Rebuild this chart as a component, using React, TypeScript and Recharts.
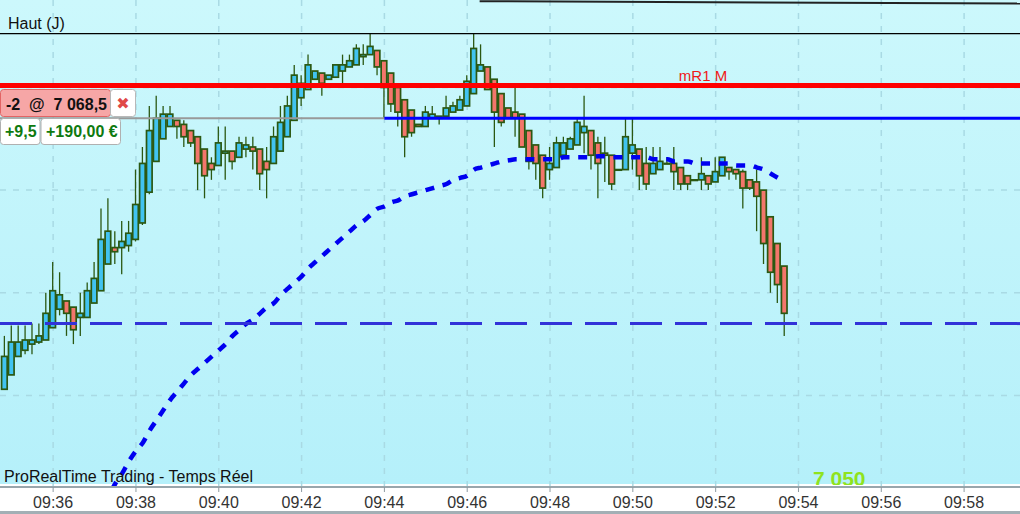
import React from 'react';
import { ComposedChart, Bar, Line, XAxis, YAxis, CartesianGrid, ReferenceLine } from 'recharts';

// 10-second candles, first one at 09:34:50
const startTime = '09:34:50';
const stepSeconds = 10;
const axisOrigin = '09:36:00';
const viewStart = '09:34:43';
const viewEnd = '09:59:21';
const tickLabels = ['09:36', '09:38', '09:40', '09:42', '09:44', '09:46', '09:48', '09:50', '09:52', '09:54', '09:56', '09:58'];

const opens = [
  7055.3, 7056.0, 7056.9, 7057.2, 7057.5, 7057.6, 7057.7, 7058.3, 7059.2, 7059.6,
  7059.3, 7058.8, 7058.8, 7059.5, 7060.1, 7061.4, 7062.2, 7062.2, 7062.3, 7062.6,
  7063.4, 7064.9, 7066.4, 7067.5, 7068.1, 7068.4, 7068.2, 7067.9, 7067.6, 7067.0,
  7066.3, 7066.2, 7066.8, 7066.9, 7066.6, 7067.0, 7067.1, 7067.0, 7066.4, 7066.3,
  7066.9, 7067.6, 7068.4, 7069.5, 7069.9, 7070.4, 7070.7, 7070.4, 7070.5, 7070.8,
  7071.0, 7071.1, 7071.5, 7071.6, 7071.8, 7071.3, 7070.7, 7070.0, 7069.4, 7068.9,
  7068.2, 7068.1, 7068.5, 7068.5, 7068.6, 7068.8, 7068.9, 7069.1, 7069.7, 7070.8,
  7071.0, 7070.4, 7069.7, 7069.0, 7068.8, 7068.7, 7067.9, 7067.2, 7066.7, 7066.0,
  7066.1, 7066.7, 7067.0, 7067.2, 7067.8, 7067.9, 7067.3, 7066.8, 7066.7, 7066.0,
  7066.0, 7066.8, 7067.0, 7066.3, 7065.8, 7066.0, 7066.3, 7066.3, 7066.1, 7065.7,
  7065.5, 7065.5, 7065.7, 7065.4, 7065.7, 7066.1, 7066.0, 7065.9, 7065.5, 7065.4,
  7065.0, 7063.7, 7062.4, 7061.3,
];
const highs = [
  7057.9, 7058.4, 7058.4, 7058.4, 7058.5, 7058.5, 7060.0, 7061.5, 7061.0, 7059.6,
  7059.3, 7060.0, 7060.5, 7061.5, 7064.1, 7064.6, 7063.0, 7063.5, 7063.5, 7066.0,
  7067.1, 7069.1, 7069.6, 7069.1, 7069.1, 7068.4, 7068.4, 7067.9, 7067.6, 7067.0,
  7066.6, 7068.1, 7068.1, 7066.9, 7067.6, 7067.6, 7067.6, 7067.0, 7067.1, 7068.1,
  7069.1, 7069.6, 7071.1, 7070.6, 7071.6, 7070.8, 7070.7, 7070.6, 7071.1, 7071.6,
  7071.6, 7072.1, 7072.1, 7072.6, 7071.8, 7071.3, 7070.7, 7070.0, 7069.4, 7068.9,
  7068.2, 7069.1, 7069.1, 7068.6, 7069.6, 7069.3, 7069.6, 7070.6, 7072.6, 7072.1,
  7071.0, 7070.4, 7069.7, 7069.0, 7070.0, 7068.7, 7067.9, 7067.2, 7066.7, 7067.1,
  7067.6, 7067.6, 7067.6, 7068.5, 7069.6, 7067.9, 7067.6, 7067.6, 7066.7, 7066.0,
  7068.5, 7068.5, 7067.0, 7067.1, 7067.1, 7067.1, 7066.6, 7067.1, 7066.1, 7065.7,
  7065.5, 7066.6, 7065.7, 7066.6, 7066.6, 7066.1, 7066.0, 7066.0, 7065.5, 7066.0,
  7065.0, 7063.7, 7062.4, 7061.3,
];
const lows = [
  7055.3, 7056.0, 7056.9, 7057.0, 7057.0, 7057.5, 7057.7, 7058.3, 7058.9, 7057.9,
  7057.5, 7057.9, 7058.8, 7059.5, 7060.1, 7061.4, 7061.4, 7060.9, 7062.0, 7062.5,
  7063.3, 7064.8, 7066.4, 7067.5, 7068.1, 7067.5, 7067.1, 7067.1, 7065.0, 7064.6,
  7065.5, 7066.2, 7065.5, 7066.0, 7066.6, 7066.6, 7066.0, 7065.0, 7064.6, 7066.3,
  7066.9, 7067.6, 7068.4, 7069.1, 7069.9, 7070.4, 7069.6, 7070.4, 7070.5, 7070.2,
  7071.0, 7071.1, 7071.1, 7071.6, 7070.6, 7068.5, 7068.8, 7068.1, 7066.6, 7067.6,
  7068.1, 7068.1, 7068.5, 7068.2, 7068.6, 7068.8, 7068.9, 7069.1, 7069.7, 7070.8,
  7069.9, 7067.1, 7068.1, 7068.5, 7067.6, 7067.1, 7066.0, 7065.5, 7064.6, 7065.5,
  7066.1, 7066.7, 7067.0, 7067.2, 7066.8, 7066.0, 7064.6, 7065.4, 7065.0, 7066.0,
  7066.0, 7066.0, 7065.0, 7065.0, 7065.8, 7066.0, 7066.3, 7065.0, 7065.0, 7065.0,
  7065.5, 7065.0, 7065.0, 7065.4, 7065.7, 7065.5, 7065.5, 7064.1, 7065.0, 7063.0,
  7061.4, 7060.0, 7059.5, 7057.9,
];
const closes = [
  7056.9, 7057.6, 7057.6, 7057.7, 7057.7, 7057.9, 7059.0, 7060.1, 7059.9, 7059.0,
  7058.2, 7059.0, 7060.1, 7060.7, 7062.6, 7063.0, 7062.0, 7062.5, 7062.9, 7064.3,
  7066.3, 7067.9, 7068.5, 7068.7, 7068.7, 7068.1, 7067.6, 7067.3, 7066.3, 7065.7,
  7066.0, 7067.3, 7066.9, 7066.4, 7067.3, 7067.2, 7066.9, 7065.8, 7066.0, 7067.6,
  7068.3, 7069.1, 7070.6, 7070.2, 7071.1, 7070.8, 7070.2, 7070.6, 7071.1, 7071.1,
  7071.3, 7071.9, 7071.6, 7072.0, 7071.0, 7070.0, 7069.2, 7068.8, 7067.6, 7067.8,
  7068.1, 7068.8, 7068.7, 7068.6, 7069.0, 7069.1, 7069.4, 7070.3, 7071.9, 7071.1,
  7069.9, 7068.8, 7068.3, 7068.5, 7068.5, 7067.1, 7066.4, 7066.3, 7065.1, 7066.3,
  7067.3, 7067.3, 7067.5, 7068.3, 7068.1, 7066.7, 7066.3, 7066.7, 7065.3, 7066.0,
  7067.6, 7067.2, 7065.7, 7065.3, 7066.3, 7066.4, 7066.3, 7065.9, 7065.3, 7065.3,
  7065.5, 7065.8, 7065.3, 7065.9, 7066.6, 7065.9, 7065.8, 7065.1, 7065.1, 7064.7,
  7062.4, 7061.0, 7060.4, 7059.0,
];
// moving average (dotted blue), only drawn from the 15th candle on
const movingAvg = [
  null, null, null, null, null, null, null, null, null, null,
  null, null, null, null, 7049.7, 7050.1, 7050.7, 7051.2, 7051.8, 7052.3,
  7052.7, 7053.3, 7053.8, 7054.3, 7054.8, 7055.2, 7055.6, 7056.0, 7056.3, 7056.6,
  7056.9, 7057.2, 7057.5, 7057.9, 7058.2, 7058.5, 7058.7, 7059.0, 7059.3, 7059.5,
  7059.9, 7060.2, 7060.5, 7060.8, 7061.2, 7061.5, 7061.8, 7062.1, 7062.4, 7062.7,
  7063.0, 7063.3, 7063.5, 7063.8, 7064.1, 7064.2, 7064.4, 7064.5, 7064.7, 7064.8,
  7064.9, 7065.0, 7065.1, 7065.2, 7065.3, 7065.5, 7065.6, 7065.7, 7066.0, 7066.1,
  7066.2, 7066.3, 7066.4, 7066.45, 7066.5, 7066.5, 7066.5, 7066.5, 7066.5, 7066.5,
  7066.5, 7066.6, 7066.6, 7066.6, 7066.6, 7066.6, 7066.65, 7066.65, 7066.6, 7066.6,
  7066.6, 7066.6, 7066.6, 7066.6, 7066.5, 7066.5, 7066.5, 7066.4, 7066.4, 7066.4,
  7066.3, 7066.3, 7066.3, 7066.3, 7066.3, 7066.3, 7066.2, 7066.2, 7066.2, 7066.1,
  7066.0, 7065.8, 7065.6, 7065.4,
];

const dayHigh = 7072.62;
const monthR1 = 7070.1;
const entryPrice = 7068.5;
const entryTime = '09:44:00';
const supportLevel = 7058.5;
const trendFrom = { time: '09:46:18', price: 7074.2 };
const trendTo = { time: viewEnd, price: 7074.09 };
const gridPrices = [7055, 7060, 7065, 7070];
const priceDomain = [7050.54, 7074.26];

const UP = '#41c3f0';
const DOWN = '#f3766b';
const OUTLINE = '#2b5812';
const FONT = '"Liberation Sans", Arial, sans-serif';

const toSec = (s: string) => {
  const [h, m, sec] = s.split(':').map(Number);
  return h * 3600 + m * 60 + (sec || 0);
};
const rel = (s: string) => toSec(s) - toSec(axisOrigin);

const data = opens.map((open, i) => ({
  t: rel(startTime) + i * stepSeconds,
  open,
  high: highs[i],
  low: lows[i],
  close: closes[i],
  ma: movingAvg[i],
}));

const tickTimes = tickLabels.map((l) => rel(l + ':00'));
const fmtTick = (t: number) => tickLabels[tickTimes.indexOf(t)] ?? '';

const Candle = (props: any) => {
  const { x, y, width, height, payload } = props;
  const { open, close, high, low } = payload;
  const cx = x + width / 2;
  const span = high - low;
  const k = span === 0 ? 0 : height / span;
  const yOf = (v: number) => y + (high - v) * k;
  const top = yOf(Math.max(open, close));
  const bottom = yOf(Math.min(open, close));
  const bw = 5.6;
  return (
    <g>
      <line x1={cx} x2={cx} y1={y} y2={y + height} stroke={OUTLINE} strokeWidth={1.3} />
      <rect
        x={cx - bw / 2}
        y={top}
        width={bw}
        height={Math.max(bottom - top, 0.6)}
        fill={close >= open ? UP : DOWN}
        stroke={OUTLINE}
        strokeWidth={1.7}
      />
    </g>
  );
};

const HautLabel = (p: any) => (
  <text x={p.viewBox.x + 8} y={p.viewBox.y - 5} fontSize={16} fontFamily={FONT} fill="#111">
    Haut (J)
  </text>
);

const R1Label = (p: any) => (
  <text x={703} y={p.viewBox.y - 4} textAnchor="middle" fontSize={15} fontFamily={FONT} fill="#f01818">
    mR1 M
  </text>
);

export default function App() {
  return (
    <div
      style={{
        position: 'relative',
        width: 1020,
        height: 514,
        background: 'linear-gradient(#ccf8fc 0px, #b5f0fa 484px, #ffffff 484px, #ffffff 511px, #a3afb5 511px)',
        fontFamily: FONT,
      }}
    >
      <style>{'body{margin:0}'}</style>
      <ComposedChart width={1020} height={514} data={data} margin={{ top: 0, right: 0, bottom: 0, left: 0 }}>
        <CartesianGrid
          stroke="#a9dae4"
          strokeWidth={1.5}
          strokeDasharray="6 7"
          horizontalValues={gridPrices}
          verticalValues={tickTimes}
        />
        <XAxis
          dataKey="t"
          type="number"
          domain={[rel(viewStart), rel(viewEnd)]}
          allowDataOverflow
          ticks={tickTimes}
          tickFormatter={fmtTick}
          height={27}
          tickSize={5}
          tickMargin={5}
          axisLine={{ stroke: '#98a6ac', strokeWidth: 2 }}
          tickLine={{ stroke: '#8d9aa0' }}
          tick={{ fontSize: 16, fill: '#333', fontFamily: FONT }}
        />
        <YAxis hide type="number" domain={priceDomain} allowDataOverflow ticks={gridPrices} />
        <Bar dataKey={(d: any) => [d.low, d.high]} barSize={6} shape={Candle} isAnimationActive={false} />
        <Line
          dataKey="ma"
          type="monotone"
          stroke="#0000f0"
          strokeWidth={4.5}
          strokeDasharray="9 8.7"
          dot={false}
          activeDot={false}
          isAnimationActive={false}
        />
        <ReferenceLine
          segment={[
            { x: rel(trendFrom.time), y: trendFrom.price },
            { x: rel(trendTo.time), y: trendTo.price },
          ]}
          stroke="#222"
          strokeWidth={2}
        />
        <ReferenceLine y={dayHigh} stroke="#000" strokeWidth={1.3} label={HautLabel} />
        <ReferenceLine y={supportLevel} stroke="#3232d8" strokeWidth={3} strokeDasharray="32 13" />
        <ReferenceLine
          segment={[
            { x: rel(viewStart), y: entryPrice },
            { x: rel(entryTime), y: entryPrice },
          ]}
          stroke="#999"
          strokeWidth={2}
        />
        <ReferenceLine
          segment={[
            { x: rel(entryTime), y: entryPrice },
            { x: rel(viewEnd), y: entryPrice },
          ]}
          stroke="#0000ff"
          strokeWidth={3}
        />
        <ReferenceLine y={monthR1} stroke="#ff0000" strokeWidth={5} label={R1Label} />
      </ComposedChart>

      <svg width={1020} height={514} style={{ position: 'absolute', left: 0, top: 0, pointerEvents: 'none' }}>
        <defs>
          <clipPath id="plotClip">
            <rect x={0} y={0} width={1020} height={485} />
          </clipPath>
        </defs>
        <g fontFamily={FONT} fontWeight="bold" fontSize={16}>
          <rect x={0.5} y={89.5} width={110} height={27} rx={3} fill="#f6a6a6" stroke="#e26464" />
          <text x={6} y={110} fill="#111" xmlSpace="preserve" style={{ whiteSpace: 'pre' }}>
            {'-2  @  7 068,5'}
          </text>
          <rect x={110.5} y={89.5} width={25} height={27} rx={3} fill="#fff" stroke="#b8b8b8" />
          <text x={123} y={109} textAnchor="middle" fill="#e04848" fontFamily="DejaVu Sans">✖</text>
          <rect x={0.5} y={118.5} width={39.5} height={26} rx={3} fill="#fff" stroke="#b0b0b0" />
          <text x={5} y={137} fill="#0f7a0f">+9,5</text>
          <rect x={41} y={118.5} width={79.5} height={26} rx={3} fill="#fff" stroke="#b0b0b0" />
          <text x={46} y={137} fill="#0f7a0f">+190,00 €</text>
        </g>
        <text x={4} y={482} fontFamily={FONT} fontSize={16} fill="#111">
          ProRealTime Trading - Temps Réel
        </text>
        <g clipPath="url(#plotClip)">
          <text x={813} y={486} fontFamily={FONT} fontWeight="bold" fontSize={21} fill="#8fe31e">
            7 050
          </text>
        </g>
      </svg>
    </div>
  );
}
